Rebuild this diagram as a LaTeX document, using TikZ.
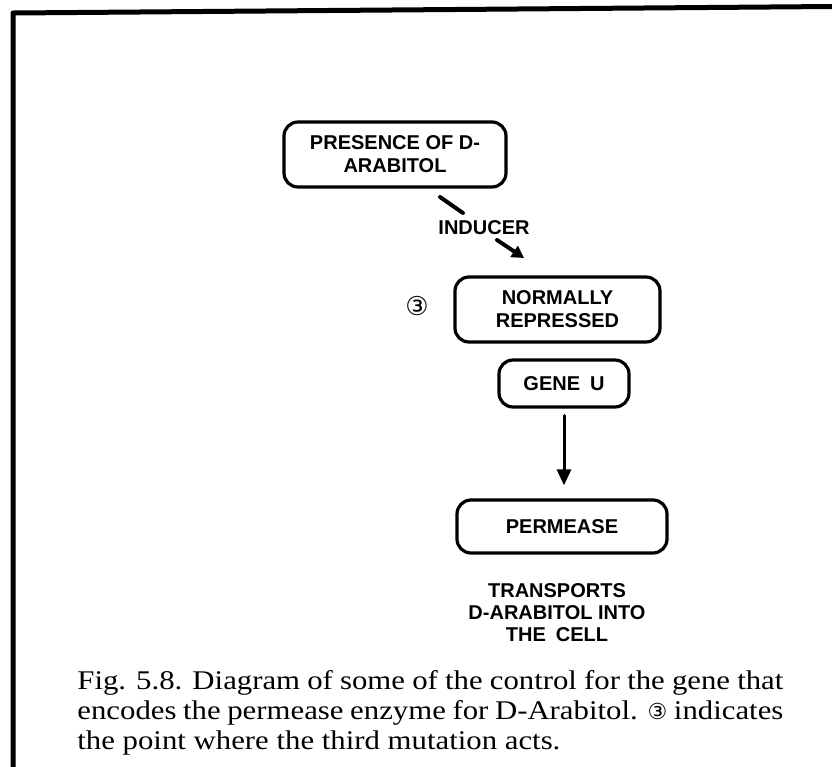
\documentclass[tikz,border=0pt]{standalone}
\usepackage{fontspec}
\setmainfont{Liberation Serif}
\newfontfamily\chuhop{Liberation Sans}
\newfontfamily\chuthich[FakeStretch=1.14]{Liberation Serif}
\newfontfamily\kyhieu{DejaVu Sans}
\usetikzlibrary{arrows.meta}
\begin{document}
\begin{tikzpicture}[line join=round, line cap=round, x=.5pt, y=-.5pt]
	\tikzset{
		hop/.style={draw, line width=1.6pt, rounded corners=7pt, align=center, inner sep=0pt,
			font=\chuhop\bfseries\fontsize{10}{11.5}\selectfont},
		chu/.style={align=center, inner sep=0pt, font=\chuhop\bfseries\fontsize{10}{11}\selectfont},
		muiten/.style={-{Triangle[length=8pt,width=7pt]}, line width=1.5pt}
	}
	\useasboundingbox (0,0) rectangle (832,767);
	
	% khung
	\draw[line width=2.5pt, line cap=butt] (13,767)--(13,13)--(832,6.5);
	
	% cac hop
	\node[hop, minimum width=111pt, minimum height=32.5pt] (D) at (395,154.5) {PRESENCE OF D-\\ARABITOL};
	\node[hop, minimum width=102.5pt, minimum height=32.5pt] (N) at (557.5,309.5) {NORMALLY\\REPRESSED};
	\node[hop, minimum width=65pt, minimum height=23.5pt] (G) at (564,383.5) {GENE\enspace U};
	\node[hop, minimum width=105pt, minimum height=26.5pt] (P) at (562,526.5) {PERMEASE};
	
	\node[chu] (I) at (484,228) {INDUCER};
	\node[font=\kyhieu\fontsize{13}{13}\selectfont, inner sep=0pt] (so3) at (417,306) {③};
	\node[chu] (T) at (557,613) {TRANSPORTS\\D-ARABITOL INTO\\THE\enspace CELL};
	
	% mui ten
	\path
	(440,197) coordinate (a)
	(463,213) coordinate (b)
	(497,240) coordinate (c)
	(524,258) coordinate (d);
	\draw[line width=2pt] (a)--(b);
	\draw[-{Triangle[length=6pt,width=6.5pt]}, line width=2pt] (c)--(d);
	\draw[muiten, shorten <=3.5pt, shorten >=6.5pt] (G.south)--(G.south |- P.north);
	
	% chu thich
	\node[anchor=north west, text width=353pt, align=justify, inner sep=0pt,
	font=\chuthich\fontsize{13.5}{15}\selectfont] (C) at (77,670.5)
	{Fig. 5.8. Diagram of some of the control for the gene that encodes the permease enzyme for D-Arabitol. {\kyhieu\fontsize{11}{11}\selectfont ③} indicates the point where the third mutation acts.};
\end{tikzpicture}
\end{document}
